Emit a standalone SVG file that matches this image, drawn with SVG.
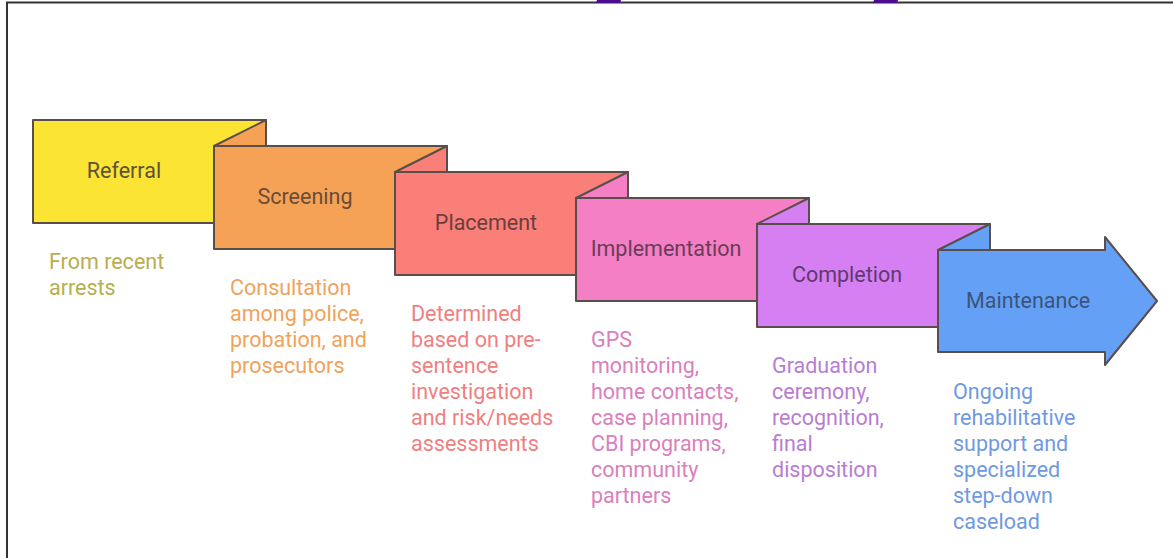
<svg xmlns="http://www.w3.org/2000/svg" width="1173" height="558" viewBox="0 0 1173 558">
<style>
.box{stroke:#5a4e4a;stroke-width:2;stroke-linejoin:round}
.lbl{font-family:Roboto,"Liberation Sans",sans-serif;font-size:21.5px;text-anchor:middle}
.desc{font-family:Roboto,"Liberation Sans",sans-serif;font-size:21.5px}
</style>
<rect width="1173" height="558" fill="#ffffff"/>
<path d="M7,558 L7,2.5 L1173,2.5" fill="none" stroke="#333333" stroke-width="2"/>
<polygon points="597,0 621,0 620,3 596,3" fill="#4b0c8e"/>
<polygon points="874,0 898,0 897,3 873,3" fill="#4b0c8e"/>
<g id="connectors"></g>
<g id="referral">
<rect class="box" x="33" y="120" width="233" height="103" fill="#fce434"/>
<text class="lbl" x="124" y="178" fill="#5c5238">Referral</text>
<text class="desc" x="49" y="269" fill="#b8ae4e"><tspan x="49">From recent</tspan><tspan x="49" dy="26">arrests</tspan></text>
</g>
<g id="screening">
<polygon class="box" points="214,146 266,120 266,146" fill="#f5a257"/>
<rect class="box" x="214" y="146" width="233" height="103" fill="#f5a257"/>
<text class="lbl" x="305" y="204" fill="#6a4d36">Screening</text>
<text class="desc" x="230" y="295" fill="#f0a35c"><tspan x="230">Consultation</tspan><tspan x="230" dy="26">among police,</tspan><tspan x="230" dy="26">probation, and</tspan><tspan x="230" dy="26">prosecutors</tspan></text>
</g>
<g id="placement">
<polygon class="box" points="395,172 447,146 447,172" fill="#fa7f78"/>
<rect class="box" x="395" y="172" width="233" height="103" fill="#fa7f78"/>
<text class="lbl" x="486" y="230" fill="#6b3e3e">Placement</text>
<text class="desc" x="411" y="321" fill="#f08080"><tspan x="411">Determined</tspan><tspan x="411" dy="26">based on pre-</tspan><tspan x="411" dy="26">sentence</tspan><tspan x="411" dy="26">investigation</tspan><tspan x="411" dy="26">and risk/needs</tspan><tspan x="411" dy="26">assessments</tspan></text>
</g>
<g id="implementation">
<polygon class="box" points="576,198 628,172 628,198" fill="#f47fc4"/>
<rect class="box" x="576" y="198" width="233" height="103" fill="#f47fc4"/>
<text class="lbl" x="666" y="256" fill="#6b3b5a">Implementation</text>
<text class="desc" x="591" y="347" fill="#d980bd"><tspan x="591">GPS</tspan><tspan x="591" dy="26">monitoring,</tspan><tspan x="591" dy="26">home contacts,</tspan><tspan x="591" dy="26">case planning,</tspan><tspan x="591" dy="26">CBI programs,</tspan><tspan x="591" dy="26">community</tspan><tspan x="591" dy="26">partners</tspan></text>
</g>
<g id="completion">
<polygon class="box" points="757,224 809,198 809,224" fill="#d57ff3"/>
<rect class="box" x="757" y="224" width="233" height="103" fill="#d57ff3"/>
<text class="lbl" x="847" y="282" fill="#5e3a6e">Completion</text>
<text class="desc" x="772" y="373" fill="#b87dd2"><tspan x="772">Graduation</tspan><tspan x="772" dy="26">ceremony,</tspan><tspan x="772" dy="26">recognition,</tspan><tspan x="772" dy="26">final</tspan><tspan x="772" dy="26">disposition</tspan></text>
</g>
<g id="maintenance">
<polygon class="box" points="938,250 990,224 990,250" fill="#64a0f6"/>
<polygon class="box" points="938,250 1105,250 1105,237 1157,301 1105,365 1105,352 938,352" fill="#64a0f6"/>
<text class="lbl" x="1028" y="308" fill="#3c5478">Maintenance</text>
<text class="desc" x="953" y="399" fill="#6f99e0"><tspan x="953">Ongoing</tspan><tspan x="953" dy="26">rehabilitative</tspan><tspan x="953" dy="26">support and</tspan><tspan x="953" dy="26">specialized</tspan><tspan x="953" dy="26">step-down</tspan><tspan x="953" dy="26">caseload</tspan></text>
</g>
</svg>
